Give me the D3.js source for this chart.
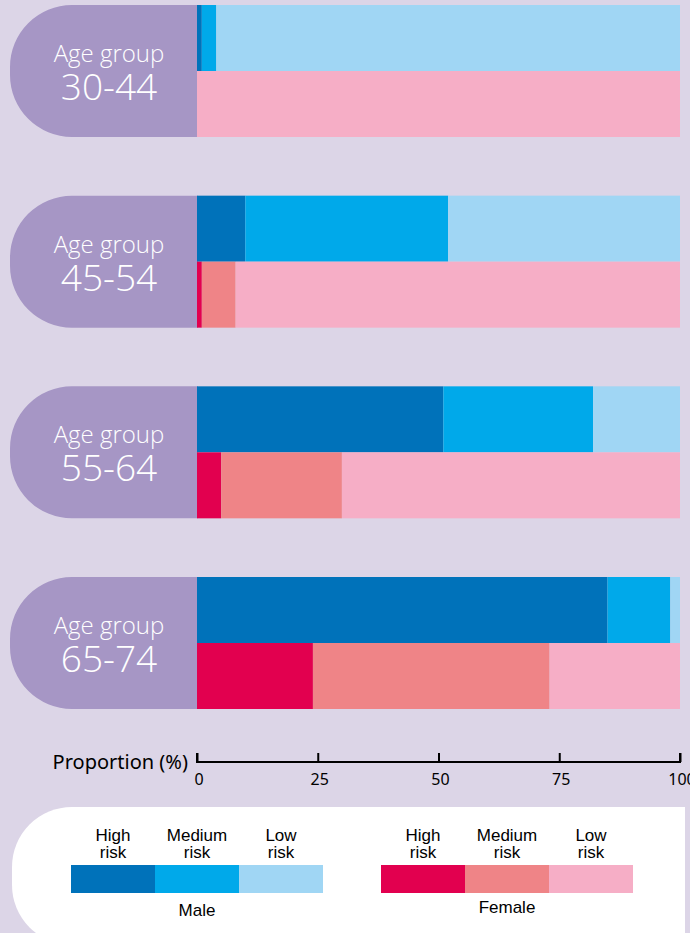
<!DOCTYPE html>
<html>
<head>
<meta charset="utf-8">
<script src="https://cdn.jsdelivr.net/npm/d3@7"></script>
<style>
	body { margin: 0; background: #dcd5e7; }
	svg { display: block; }
	.cond { font-family: "Liberation Sans", Arial, sans-serif; }
</style>
</head>
<body>
<svg id="chart" width="690" height="933"></svg>
<script>
// age groups and risk shares (%)
const groups = ["30-44", "45-54", "55-64", "65-74"];
const maleHigh = [1, 10, 51, 85];
const maleMedium = [3, 42, 31, 13];
const maleLow = [96, 48, 18, 2];
const femaleHigh = [0, 1, 5, 24];
const femaleMedium = [0, 7, 25, 49];
const femaleLow = [100, 92, 70, 27];

const risks = ["High", "Medium", "Low"];
const ticks = [0, 25, 50, 75, 100];
const maleColors = ["#0072ba", "#00a9ea", "#a0d6f4"];
const femaleColors = ["#e2004f", "#ef8487", "#f6aec6"];

const svg = d3.select("#chart");

svg.append("rect")
	.attr("width", 690)
	.attr("height", 933)
	.attr("fill", "#dcd5e7");

const x = d3.scaleLinear()
	.domain([0, 100])
	.range([197, 680]);

const y = d3.scaleBand()
	.domain(groups)
	.range([5, 709])
	.paddingInner(0.3077);

const sex = d3.scaleBand()
	.domain(["Male", "Female"])
	.range([0, y.bandwidth()]);

const rows = groups.map((g, i) => ({
	group: g,
	Male: [maleHigh[i], maleMedium[i], maleLow[i]],
	Female: [femaleHigh[i], femaleMedium[i], femaleLow[i]]
}));

// purple label pills
const pillLeft = 10;
const r = 62;
const pill = svg.append("g");
rows.forEach(d => {
	const top = y(d.group);
	const bot = top + y.bandwidth();
	const right = x(0) + 1;
	pill.append("path")
		.attr("d", `M${right},${top} L${pillLeft + r},${top} A${r},${r} 0 0 0 ${pillLeft},${top + r}
			L${pillLeft},${bot - r} A${r},${r} 0 0 0 ${pillLeft + r},${bot} L${right},${bot} Z`)
		.attr("fill", "#a696c5");
	pill.append("text")
		.attr("x", 109)
		.attr("y", top + 57)
		.attr("text-anchor", "middle")
		.attr("fill", "#fff")
		.style("font-family", "'Open Sans', 'Noto Sans', sans-serif")
		.style("font-weight", 300)
		.style("font-size", "24px")
		.text("Age group");
	pill.append("text")
		.attr("x", 109)
		.attr("y", top + 95)
		.attr("text-anchor", "middle")
		.attr("fill", "#fff")
		.style("font-family", "'Open Sans', 'Noto Sans', sans-serif")
		.style("font-weight", 300)
		.style("font-size", "37px")
		.text(d.group);
});

// stacked bars
const stack = vals => {
	let acc = 0;
	return vals.map((v, k) => {
		const s = { x0: acc, x1: acc + v, k: k };
		acc += v;
		return s;
	});
};

const bars = svg.append("g");
rows.forEach(d => {
	["Male", "Female"].forEach(s => {
		const cols = s === "Male" ? maleColors : femaleColors;
		bars.selectAll(null)
			.data(stack(d[s]).filter(p => p.x1 > p.x0))
			.enter()
			.append("rect")
			.attr("x", p => x(p.x0))
			.attr("y", y(d.group) + sex(s))
			.attr("width", p => x(p.x1) - x(p.x0))
			.attr("height", sex.bandwidth())
			.attr("fill", p => cols[p.k]);
	});
});

// axis
const axis = svg.append("g")
	.attr("transform", "translate(0,762)")
	.call(d3.axisTop(x).tickValues(ticks).tickSize(9).tickFormat(""));
axis.select(".domain").attr("d", `M${x(0)},-9V0H${x(100)}V-9`).attr("stroke-width", 2);
axis.selectAll(".tick line").attr("stroke-width", 2);

svg.selectAll(".tlab")
	.data(ticks)
	.enter()
	.append("text")
	.attr("x", d => x(d) + 2)
	.attr("y", 785)
	.attr("text-anchor", "middle")
	.style("font-family", "'Noto Sans', sans-serif")
	.style("font-size", "16px")
	.text(d => d);

svg.append("text")
	.attr("x", 188)
	.attr("y", 769)
	.attr("text-anchor", "end")
	.style("font-family", "'Noto Sans', sans-serif")
	.style("font-size", "20px")
	.text("Proportion (%)");

// legend
const lr = 60;
svg.append("path")
	.attr("d", `M685,807 L${12 + lr},807 A${lr},${lr} 0 0 0 12,${807 + lr} L12,${945 - lr} A${lr},${lr} 0 0 0 ${12 + lr},945 L685,945 Z`)
	.attr("fill", "#fff");

const legends = [
	{ name: "Male", range: [71, 323], colors: maleColors, labelY: 916 },
	{ name: "Female", range: [381, 633], colors: femaleColors, labelY: 913 }
];

legends.forEach(l => {
	const lx = d3.scaleBand().domain(risks).range(l.range);
	const g = svg.append("g");
	g.selectAll("rect")
		.data(risks)
		.enter()
		.append("rect")
		.attr("x", d => lx(d))
		.attr("y", 865)
		.attr("width", lx.bandwidth())
		.attr("height", 28)
		.attr("fill", (d, i) => l.colors[i]);
	const t = g.selectAll("text.risk")
		.data(risks)
		.enter()
		.append("text")
		.attr("class", "cond")
		.attr("text-anchor", "middle")
		.style("font-size", "17px");
	t.append("tspan")
		.attr("x", d => lx(d) + lx.bandwidth() / 2)
		.attr("y", 841)
		.text(d => d);
	t.append("tspan")
		.attr("x", d => lx(d) + lx.bandwidth() / 2)
		.attr("y", 858)
		.text("risk");
	g.append("text")
		.attr("class", "cond")
		.attr("x", (l.range[0] + l.range[1]) / 2)
		.attr("y", l.labelY)
		.attr("text-anchor", "middle")
		.style("font-size", "17px")
		.text(l.name);
});
</script>
</body>
</html>
